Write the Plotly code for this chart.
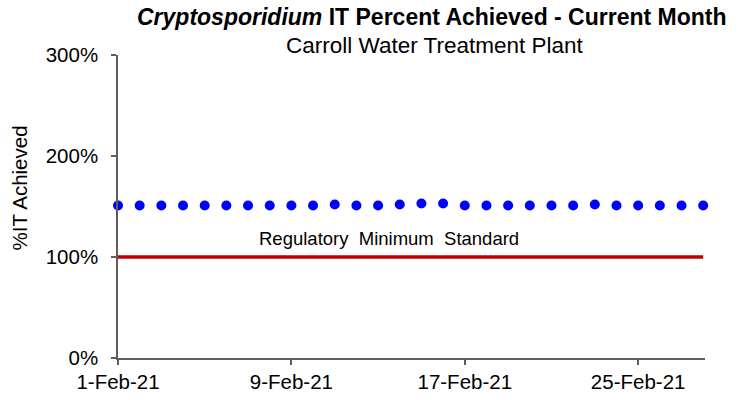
import plotly.graph_objects as go

dates = [f"2021-02-{d:02d}" for d in range(1, 29)]
it_percent = [151, 151, 151, 151, 151, 151, 151, 151, 151, 151, 152, 151, 151, 152,
              153, 153, 151, 151, 151, 151, 151, 151, 152, 151, 151, 151, 151, 151]
reg_dates = ["2021-02-01", "2021-02-28"]
reg_min = [100, 100]
x_tickvals = ["2021-02-01", "2021-02-09", "2021-02-17", "2021-02-25"]
x_ticktext = ["1-Feb-21", "9-Feb-21", "17-Feb-21", "25-Feb-21"]
y_tickvals = [0, 100, 200, 300]
y_ticktext = ["0%", "100%", "200%", "300%"]

FONT = "Liberation Sans, Arial, sans-serif"
AX = "#5f5f5f"

fig = go.Figure()
fig.add_trace(go.Scatter(x=reg_dates, y=reg_min, mode="lines",
                         line=dict(color="#C00000", width=3.5), showlegend=False,
                         hoverinfo="skip"))
fig.add_trace(go.Scatter(x=dates, y=it_percent, mode="markers",
                         marker=dict(color="#0000FF", size=10), showlegend=False,
                         cliponaxis=False))

fig.update_layout(
    width=751, height=400,
    margin=dict(l=118, r=46, t=55, b=42),
    paper_bgcolor="white", plot_bgcolor="white",
    font=dict(family=FONT, color="#000000", size=20),
    xaxis=dict(type="date", range=["2021-02-01", "2021-02-28 02:00"], automargin=False,
               tickvals=x_tickvals, ticktext=x_ticktext,
               showgrid=False, zeroline=False, showline=True, linecolor=AX, linewidth=1.5,
               ticks="outside", ticklen=5, tickcolor=AX, tickwidth=1.5,
               tickfont=dict(size=20.5, family=FONT)),
    yaxis=dict(range=[0, 300], tickvals=y_tickvals, ticktext=y_ticktext, automargin=False,
               showgrid=False, zeroline=False, showline=True, linecolor=AX, linewidth=1.5,
               ticks="outside", ticklen=5, tickcolor=AX, tickwidth=1.5,
               ticklabelstandoff=9,
               tickfont=dict(size=20.5, family=FONT)),
    annotations=[
        dict(text="<b><i>Cryptosporidium</i> IT Percent Achieved - Current Month</b>",
             xref="paper", yref="paper", x=0.535, y=1.125, xanchor="center", yanchor="middle",
             showarrow=False, font=dict(size=23, family=FONT)),
        dict(text="Carroll Water Treatment Plant",
             xref="paper", yref="paper", x=0.54, y=1.033, xanchor="center", yanchor="middle",
             showarrow=False, font=dict(size=22.5, family=FONT)),
        dict(text="%IT Achieved", textangle=-90,
             xref="paper", yref="paper", x=-0.1685, y=0.56, xanchor="center", yanchor="middle",
             showarrow=False, font=dict(size=20.5, family=FONT)),
        dict(text="Regulatory  Minimum  Standard",
             xref="x", yref="y", x="2021-02-13 12:00", y=118, xanchor="center", yanchor="middle",
             showarrow=False, font=dict(size=18.5, family=FONT)),
    ],
)

fig.write_html(
    "out.html",
    config={"displayModeBar": False},
    post_script="document.body.style.margin='0';document.body.style.overflow='hidden';",
)
